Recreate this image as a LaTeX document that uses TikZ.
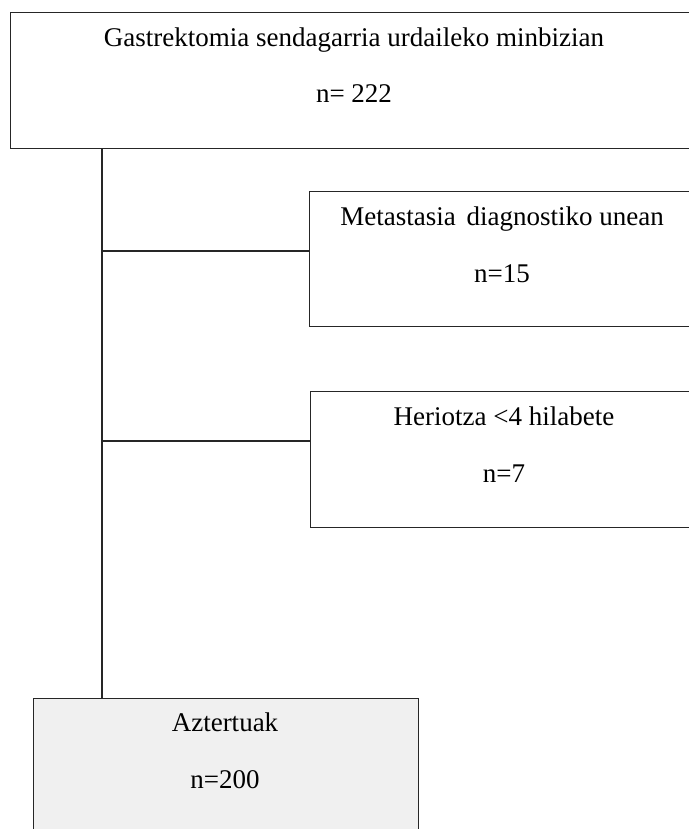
\documentclass[tikz,border=0pt]{standalone}
\usepackage{fontspec}
\setmainfont{Liberation Serif}
\begin{document}
\begin{tikzpicture}[x=1pt,y=-1pt,
  box/.style={draw=black!85, line width=1.4pt, rectangle, inner sep=0pt, anchor=north west},
  txt/.style={anchor=base, inner sep=0pt, font=\fontsize{27}{31}\selectfont},
  conn/.style={draw=black!85, line width=1.4pt}]
\useasboundingbox (0,0) rectangle (688,829);
% boxes
\node[box, minimum width=688pt, minimum height=136pt] (top) at (10,12) {};
\node[box, minimum width=386pt, minimum height=135pt] (meta) at (309,191) {};
\node[box, minimum width=386pt, minimum height=136pt] (her) at (310,391) {};
\node[box, fill=black!6, minimum width=385pt, minimum height=160pt] (azt) at (33,698) {};
% texts
\node[txt] (t1) at (354,47) {Gastrektomia sendagarria urdaileko minbizian};
\node[txt] (t2) at (354,103) {n= 222};
\node[txt] (m1) at (502,225) {Metastasia\hspace{4pt} diagnostiko unean};
\node[txt] (m2) at (502,282) {n=15};
\node[txt] (h1) at (504,425) {Heriotza <4 hilabete};
\node[txt] (h2) at (504,482) {n=7};
\node[txt] (a1) at (225,731) {Aztertuak};
\node[txt] (a2) at (225,788) {n=200};
% connectors
\coordinate (j1) at (102,251);
\coordinate (j2) at (102,441);
\draw[conn] (top.south west -| j1) -- (azt.north west -| j1);
\draw[conn] (j1) -- (j1 -| meta.west);
\draw[conn] (j2) -- (j2 -| her.west);
\end{tikzpicture}
\end{document}
